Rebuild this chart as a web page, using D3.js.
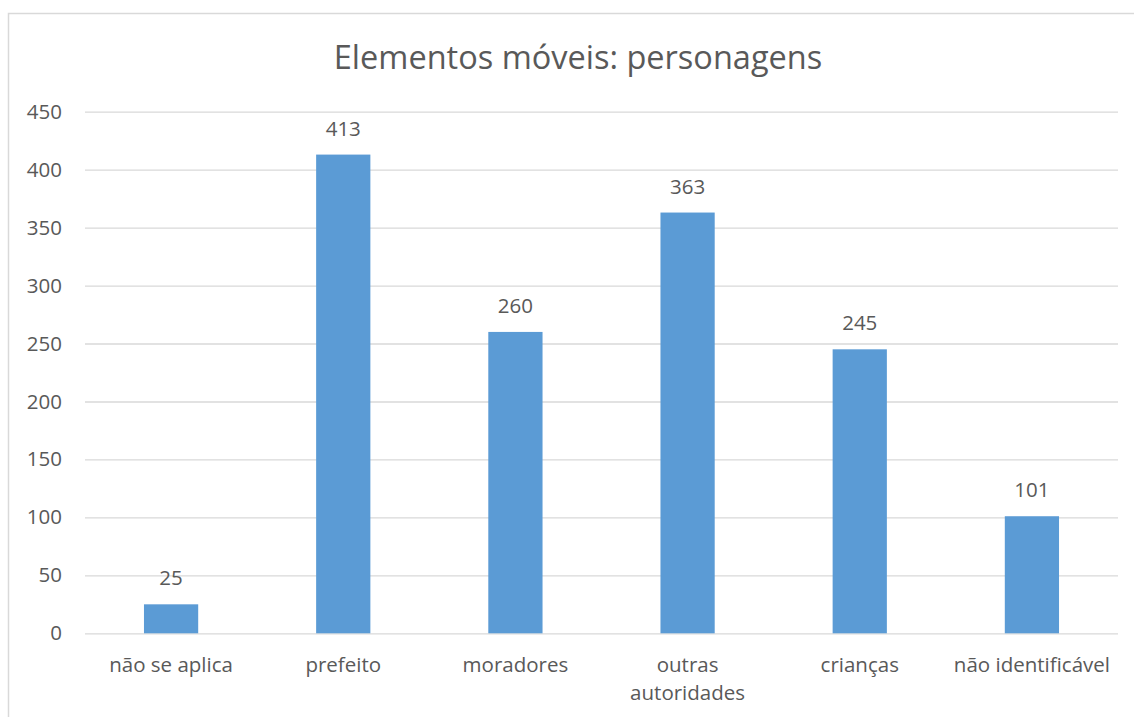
<!DOCTYPE html>
<html><head><meta charset="utf-8">
<script src="https://cdn.jsdelivr.net/npm/d3@7"></script>
<style>body{margin:0;background:#fff}svg{display:block}</style>
</head><body>
<svg id="c" width="1134" height="717"></svg>
<script>
const title = "Elementos móveis: personagens";
const categories = [["não se aplica"],["prefeito"],["moradores"],["outras","autoridades"],["crianças"],["não identificável"]];
const values = [25, 413, 260, 363, 245, 101];
const yTicks = [0,50,100,150,200,250,300,350,400,450];

const svg = d3.select("#c");
const font = "'Open Sans', sans-serif";
const txt = "#595959";
const fs = 20.5;
const L = 85, R = 1118, T = 111.7, B = 633.3;

svg.append("rect").attr("x",8.5).attr("y",13.5).attr("width",1140).attr("height",720)
  .attr("fill","none").attr("stroke","#d9d9d9").attr("stroke-width",1.5);

const x = d3.scaleBand().domain(d3.range(categories.length)).range([L,R]).padding(0);
const y = d3.scaleLinear().domain([0,450]).range([B,T]);

svg.append("text").attr("x",578).attr("y",68.5).attr("text-anchor","middle")
  .attr("font-family",font).attr("font-size",32.5).attr("fill",txt).text(title);

const yAxis = d3.axisLeft(y).tickValues(yTicks).tickSize(-(R-L)).tickPadding(23);
const ga = svg.append("g").attr("transform",`translate(${L},0)`).call(yAxis);
ga.select(".domain").remove();
ga.selectAll(".tick line").attr("stroke","#d9d9d9").attr("stroke-width",1.3);
ga.selectAll(".tick text").attr("font-family",font).attr("font-size",fs).attr("fill",txt);

const bw = x.bandwidth()*0.315;
svg.selectAll("rect.bar").data(values).enter().append("rect").attr("class","bar")
  .attr("x",(d,i)=>x(i)+x.bandwidth()/2-bw/2).attr("width",bw)
  .attr("y",d=>y(d)).attr("height",d=>B-y(d)).attr("fill","#5b9bd5");

svg.selectAll("text.val").data(values).enter().append("text").attr("class","val")
  .attr("x",(d,i)=>x(i)+x.bandwidth()/2).attr("y",d=>y(d)-19)
  .attr("text-anchor","middle").attr("font-family",font).attr("font-size",fs).attr("fill",txt)
  .text(d=>d);

const xl = svg.selectAll("text.cat").data(categories).enter().append("text").attr("class","cat")
  .attr("text-anchor","middle").attr("font-family",font).attr("font-size",fs).attr("fill",txt);
xl.each(function(d,i){
  d3.select(this).selectAll("tspan").data(d).enter().append("tspan")
    .attr("x",x(i)+x.bandwidth()/2).attr("y",(t,j)=>672+j*28).text(t=>t);
});
</script>
</body></html>
